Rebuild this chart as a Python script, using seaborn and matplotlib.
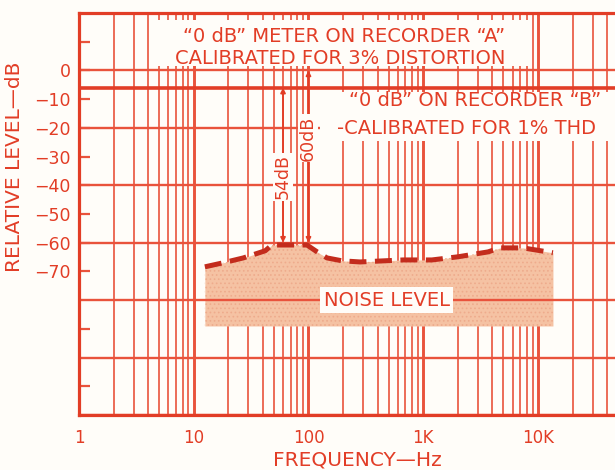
import numpy as np
import matplotlib
matplotlib.use("Agg")
import matplotlib.pyplot as plt
import seaborn as sns
from matplotlib.patches import Rectangle
from matplotlib.ticker import FixedLocator, LogLocator, NullFormatter

# Measured noise level of the recorder across the audio band
freq_hz = [12.5, 18, 27, 42, 48, 97, 119, 145, 196, 281, 666, 1190,
           2010, 3670, 4670, 7400, 13500]
noise_db = [-68.4, -67.0, -65.3, -62.8, -60.8, -60.8, -63.2, -65.3, -66.3,
            -66.7, -66.0, -66.0, -64.9, -63.2, -61.8, -61.8, -63.5]
noise_floor_db = -89

# Reference levels of the two "0 dB" calibrations
ref_a_db = 0
ref_b_db = -6
peak_noise_db = -60

x_ticks = [1, 10, 100, 1000, 10000]
x_tick_labels = ["1", "10", "100", "1K", "10K"]
y_ticks = [0, -10, -20, -30, -40, -50, -60, -70]
y_tick_labels = ["0", "\u221210", "\u221220", "\u221230", "\u221240",
                 "\u221250", "\u221260", "\u221270"]
y_grid = [20, 0, -20, -40, -60, -80, -100, -120]
y_stubs = [10, -90, -110]

RED = "#e23d26"
GRID = "#e9533c"
CURVE = "#c32c1d"
FILL = "#f5c2a3"
PAPER = "#fffdf9"

sns.set_theme(style="white")
plt.rcParams["font.family"] = ["DejaVu Sans"]
plt.rcParams["hatch.linewidth"] = 0.7

fig = plt.figure(figsize=(6.15, 4.70), dpi=100, facecolor=PAPER)
ax = fig.add_axes([79 / 615, 1 - 415 / 470, (615 - 79) / 615, 402 / 470])
ax.set_facecolor(PAPER)
ax.set_xscale("log")
ax.set_xlim(1, 4.69e4)
ax.set_ylim(-120, 20)

# log-frequency grid
ax.xaxis.set_major_locator(FixedLocator(x_ticks))
ax.set_xticklabels(x_tick_labels)
ax.xaxis.set_minor_locator(LogLocator(base=10, subs=np.arange(2, 10), numticks=30))
ax.xaxis.set_minor_formatter(NullFormatter())
ax.grid(True, which="major", axis="x", color=GRID, lw=2.1)
ax.grid(True, which="minor", axis="x", color=GRID, lw=1.2)
ax.tick_params(axis="x", which="both", length=0, labelsize=12,
               pad=10, labelcolor=RED)

# level grid every 20 dB
for v in y_grid:
    ax.axhline(v, color=GRID, lw=1.7, zorder=1.5)
ax.axhline(ref_b_db, color=RED, lw=2.6, zorder=1.6)

ax.set_yticks(y_ticks)
ax.set_yticklabels(y_tick_labels)
ax.set_yticks(y_stubs, minor=True)
ax.tick_params(axis="y", which="both", direction="in", length=8, width=1.6,
               color=GRID, labelsize=12.5, pad=6, labelcolor=RED, left=True)

for side in ("left", "bottom", "top"):
    ax.spines[side].set_color(RED)
    ax.spines[side].set_linewidth(2.3)
ax.spines["right"].set_visible(False)

# noise band
ax.fill_between(freq_hz, noise_db, noise_floor_db, color=FILL, lw=0, zorder=1)
ax.fill_between(freq_hz, noise_db, noise_floor_db, facecolor="none",
                hatch="....", edgecolor="#eeab8c", lw=0, zorder=1.1)

sns.lineplot(x=freq_hz, y=noise_db, ax=ax, color=CURVE, lw=3.6,
             linestyle=(0, (3.4, 1.7)), estimator=None, zorder=3)

# white panels behind the calibration notes
ax.add_patch(Rectangle((4.6, 1.4), 8180 - 4.6, 16.2, facecolor=PAPER,
                       edgecolor="none", zorder=2.2))
ax.add_patch(Rectangle((126, -24.5), 6e4, 17.0, facecolor=PAPER,
                       edgecolor="none", zorder=2.2))

txt = dict(color=RED, fontsize=14, ha="center", va="center", zorder=5)
ax.text(204, 11.8, "\u201c0 dB\u201d METER ON RECORDER \u201cA\u201d", **txt)
ax.text(188, 4.2, "CALIBRATED FOR 3% DISTORTION", **txt)
ax.text(2825, -10.4, "\u201c0 dB\u201d ON RECORDER \u201cB\u201d", **txt)
ax.text(2360, -20.1, "-CALIBRATED FOR 1% THD", **txt)
ax.text(483, -80, "NOISE LEVEL", bbox=dict(facecolor=PAPER, edgecolor="none",
                                           pad=2.5), **txt)

# level differences between the calibrations and the noise peak
arrow = dict(arrowstyle="<|-|>", color=RED, lw=1.3, mutation_scale=7,
             shrinkA=0, shrinkB=0)
ax.annotate("", xy=(60, peak_noise_db), xytext=(60, ref_b_db),
            arrowprops=arrow, zorder=4)
ax.annotate("", xy=(100, peak_noise_db), xytext=(100, ref_a_db),
            arrowprops=arrow, zorder=4)
rot = dict(color=RED, fontsize=12.5, ha="center", va="center", rotation=90,
           zorder=5, bbox=dict(facecolor=PAPER, edgecolor="none", pad=1.0))
ax.text(60, -37, f"{ref_b_db - peak_noise_db}dB", **rot)
ax.text(99, -23.6, f"{ref_a_db - peak_noise_db}dB", **rot)

fig.text(15 / 615, 1 - 167 / 470, "RELATIVE LEVEL\u2014dB", rotation=90,
         color=RED, fontsize=14.5, ha="center", va="center")
fig.text(357 / 615, 1 - 460 / 470, "FREQUENCY\u2014Hz", color=RED,
         fontsize=14.5, ha="center", va="center")

fig.savefig("out.png", dpi=100, facecolor=PAPER)
